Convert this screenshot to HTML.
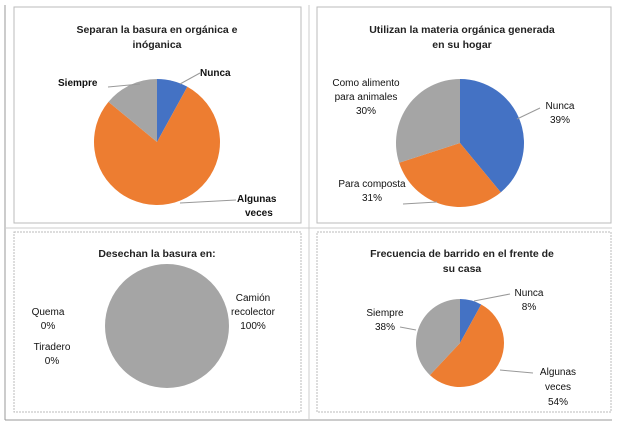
<!DOCTYPE html>
<html><head><meta charset="utf-8"><style>
body{margin:0;background:#fff;}
svg{display:block;font-family:"Liberation Sans",sans-serif;}
.t{font-size:10.5px;font-weight:bold;fill:#222;text-anchor:middle;}
.l{font-size:10px;fill:#111;}
.b{font-weight:bold;}
</style></head><body>
<svg id="s" width="619" height="428" viewBox="0 0 619 428">
<rect x="14" y="7" width="287" height="216" fill="none" stroke="#bbb"/>
<rect x="317" y="7" width="294" height="216" fill="none" stroke="#bbb"/>
<rect x="14" y="232" width="287" height="180" fill="none" stroke="#bbb" stroke-dasharray="2,1"/>
<rect x="317" y="232" width="294" height="180" fill="none" stroke="#bbb" stroke-dasharray="2,1"/>
<line x1="5" y1="5" x2="5" y2="420" stroke="#999"/>
<line x1="5" y1="420" x2="612" y2="420" stroke="#999"/>
<line x1="309" y1="5" x2="309" y2="420" stroke="#ccc"/>
<line x1="5" y1="228" x2="612" y2="228" stroke="#ccc"/>

<text class="t" x="157" y="33">Separan la basura  en orgánica  e</text>
<text class="t" x="157" y="48">inóganica</text>
<text class="t" x="462" y="33">Utilizan  la materia orgánica  generada</text>
<text class="t" x="462" y="48">en su hogar</text>
<text class="t" x="157" y="257">Desechan  la basura  en:</text>
<text class="t" x="462" y="257">Frecuencia  de barrido  en  el frente de</text>
<text class="t" x="462" y="272">su casa</text>

<g id="g1"></g><g id="g2"></g><g id="g3"></g><g id="g4"></g>

<g>
<line x1="180" y1="84" x2="200" y2="73" stroke="#999"/>
<text class="l b" x="200" y="76" font-size="11.5">Nunca</text>
<line x1="108" y1="87" x2="140" y2="84" stroke="#999"/>
<text class="l b" x="58" y="86" font-size="11.5">Siempre</text>
<line x1="180" y1="203" x2="236" y2="200" stroke="#999"/>
<text class="l b" x="237" y="202" font-size="11.5">Algunas</text>
<text class="l b" x="245" y="216" font-size="11.5">veces</text>
</g>
<g>
<line x1="517" y1="119" x2="540" y2="108" stroke="#999"/>
<text class="l" x="560" y="109" text-anchor="middle">Nunca</text>
<text class="l" x="560" y="123" text-anchor="middle">39%</text>
<text class="l" x="366" y="86" text-anchor="middle">Como alimento</text>
<text class="l" x="366" y="100" text-anchor="middle">para animales</text>
<text class="l" x="366" y="114" text-anchor="middle">30%</text>
<line x1="403" y1="204" x2="437" y2="202" stroke="#999"/>
<text class="l" x="372" y="187" text-anchor="middle">Para composta</text>
<text class="l" x="372" y="201" text-anchor="middle">31%</text>
</g>
<g>
<text class="l" x="48" y="315" text-anchor="middle">Quema</text>
<text class="l" x="48" y="329" text-anchor="middle">0%</text>
<text class="l" x="52" y="350" text-anchor="middle">Tiradero</text>
<text class="l" x="52" y="364" text-anchor="middle">0%</text>
<text class="l" x="253" y="301" text-anchor="middle">Camión</text>
<text class="l" x="253" y="315" text-anchor="middle">recolector</text>
<text class="l" x="253" y="329" text-anchor="middle">100%</text>
</g>
<g>
<line x1="474" y1="301" x2="510" y2="294" stroke="#999"/>
<text class="l" x="529" y="296" text-anchor="middle">Nunca</text>
<text class="l" x="529" y="310" text-anchor="middle">8%</text>
<line x1="400" y1="327" x2="416" y2="330" stroke="#999"/>
<text class="l" x="385" y="316" text-anchor="middle">Siempre</text>
<text class="l" x="385" y="330" text-anchor="middle">38%</text>
<line x1="500" y1="370" x2="533" y2="373" stroke="#999"/>
<text class="l" x="558" y="375" text-anchor="middle">Algunas</text>
<text class="l" x="558" y="390" text-anchor="middle">veces</text>
<text class="l" x="558" y="405" text-anchor="middle">54%</text>
</g>
</svg>
<script>
const colors=["#4472C4","#ED7D31","#A5A5A5"];
const sepCats=["Nunca","Algunas veces","Siempre"];
const sepVals=[8,78,14];
const utiCats=["Nunca","Para composta","Como alimento para animales"];
const utiVals=[39,31,30];
const desCats=["Quema","Tiradero","Camión recolector"];
const desVals=[0,0,100];
const barCats=["Nunca","Algunas veces","Siempre"];
const barVals=[8,54,38];
const NS="http://www.w3.org/2000/svg";
function pie(gid,cats,vals,cols,cx,cy,r,name){
  const g=document.getElementById(gid);
  
  
  const tot=vals.reduce((a,b)=>a+b,0);
  let a0=0;
  vals.forEach((v,i)=>{
    if(v<=0)return;
    const a1=a0+v/tot*2*Math.PI;
    let el;
    if(v>=tot){el=document.createElementNS(NS,'circle');el.setAttribute('cx',cx);el.setAttribute('cy',cy);el.setAttribute('r',r);}
    else{
      const x0=cx+r*Math.sin(a0),y0=cy-r*Math.cos(a0),x1=cx+r*Math.sin(a1),y1=cy-r*Math.cos(a1);
      el=document.createElementNS(NS,'path');
      el.setAttribute('d',`M${cx},${cy}L${x0},${y0}A${r},${r} 0 ${a1-a0>Math.PI?1:0} 1 ${x1},${y1}Z`);
    }
    el.setAttribute('fill',cols[i]);
    
    
    g.appendChild(el);
    a0=a1;
  });
}
pie('g1',sepCats,sepVals,colors,157,142,63,'pie-separan');
pie('g2',utiCats,utiVals,colors,460,143,64,'pie-utilizan');
pie('g3',desCats,desVals,colors,167,326,62,'pie-desechan');
pie('g4',barCats,barVals,colors,460,343,44,'pie-barrido');
</script>
</body></html>
